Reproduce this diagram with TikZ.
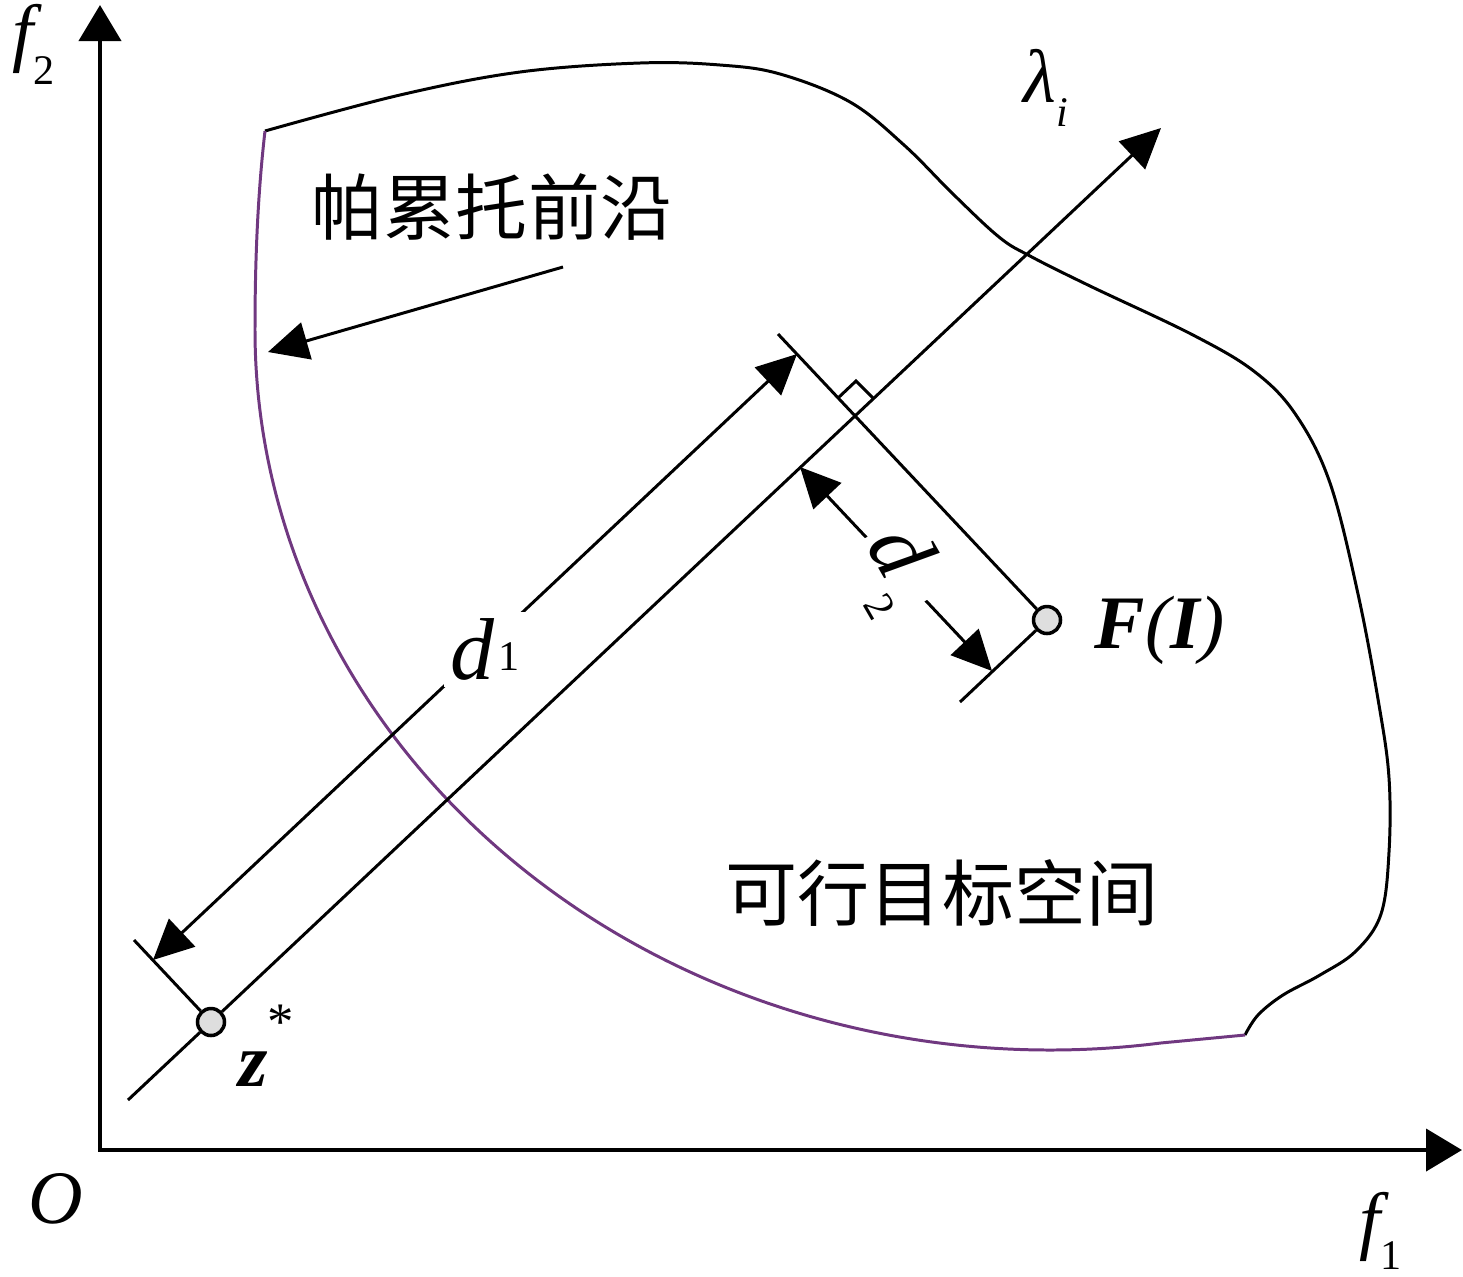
\documentclass[tikz,border=0pt]{standalone}
\usepackage{fontspec}
\setmainfont{Liberation Serif}
\newfontfamily\cjk{Noto Sans CJK SC}
\usetikzlibrary{arrows.meta, positioning, calc}
\definecolor{frontcol}{RGB}{112,56,128}
\definecolor{dotgray}{RGB}{222,222,222}
\newcommand\idx[2][-0.32em]{\raisebox{#1}{\fontsize{24}{26}\selectfont #2}}

\begin{document}
\begin{tikzpicture}[x=0.02cm, y=-0.02cm, line width=1.7pt, line join=miter,
  every node/.style = {inner sep=0pt, font=\fontsize{43}{50}\selectfont\itshape},
  axes/.style = {line width=2.3pt, {Triangle[length=0.72cm, width=0.84cm]}-{Triangle[length=0.72cm, width=0.84cm]}},
  tip/.style = {-{Triangle[length=0.8cm, width=0.76cm]}},
  dim/.style = {{Triangle[length=0.8cm, width=0.76cm]}-{Triangle[length=0.8cm, width=0.76cm]}},
  dot/.style = {circle, draw, fill=dotgray, line width=2pt, minimum size=0.54cm},
  dimlabel/.style = {fill=white, inner sep=4pt, font=\fontsize{50}{56}\selectfont\itshape},
  cn/.style = {font=\fontsize{41}{49}\selectfont\cjk}]

  \useasboundingbox (0,0) rectangle (1463,1276);

  % axes
  \coordinate (O) at (100,1150);
  \coordinate (ytip) at (100,5);
  \coordinate (xtip) at (1462,1150);
  \draw[axes] (ytip) -- (O) -- (xtip);
  \node (f2) at (34,44) {f\idx[-0.36em]{\upshape 2}};
  \node (orig) at (56,1199) {O};
  \node (f1) at (1381,1231) {f\idx{\upshape 1}};

  % feasible region
  \coordinate (corner) at (265,131);
  \coordinate (junction) at (1245,1035);
  \draw plot[smooth, tension=0.6] coordinates {(corner) (400,95) (520,72) (640,63)
    (720,65) (780,74) (850,102) (904,145) (953,194) (999,237) (1030,256) (1090,286)
    (1193,335) (1255,372) (1296,415) (1330,483) (1358,594) (1379,705) (1389,778)
    (1389,852) (1381,914) (1356,951) (1320,975) (1283,995) (1258,1015) (junction)};
  \draw[frontcol] (corner) .. controls (257,200) and (255,270) .. (255,330)
    arc[start angle=180, end angle=82, x radius=795, y radius=720] -- (junction);

  % points
  \node[dot] (zstar) at (211,1022) {};
  \node[dot] (FI) at (1047,620) {};
  \node (zlab) at (266,1046) {\bfseries z\raisebox{0.62em}{\mdseries\upshape\fontsize{30}{32}\selectfont *}};
  \node (FIlab) at (1160,630) {\bfseries F\mdseries(\bfseries I\mdseries)};

  % weight vector
  \coordinate (lamA) at (128,1100);
  \coordinate (lamB) at (1161,128);
  \draw (lamA) -- (zstar);
  \draw[tip] (zstar) -- (lamB);
  \node (lam) at (1046,88) {λ\idx{i}};

  % projection of F(I)
  \coordinate (perpTop) at (778,334);
  \coordinate (zext) at (134,940);
  \coordinate (FIext) at (960,702);
  \draw (perpTop) -- (FI);
  \draw (FI) -- (FIext);
  \draw (zstar) -- (zext);
  \draw (838,398) -- (856,381) -- (874,399);

  % distances
  \coordinate (d1a) at (153,960);
  \coordinate (d1b) at (797,354);
  \draw[dim] (d1a) -- node[dimlabel, xshift=0.2cm, yshift=0.15cm] {d\kern2pt\idx[0.1em]{\upshape 1}} (d1b);
  \coordinate (d2a) at (800,467);
  \coordinate (d2b) at (992,671);
  \draw[dim] (d2a) -- node[dimlabel, rotate=-60] {d\kern3pt\idx[-0.36em]{\upshape 2}} (d2b);

  % region labels
  \node[cn] (front) at (492,207) {帕累托前沿};
  \coordinate (fa) at (563,267);
  \coordinate (fb) at (268,352);
  \draw[tip] (fa) -- (fb);
  \node[cn] (space) at (942,893) {可行目标空间};
\end{tikzpicture}
\end{document}
